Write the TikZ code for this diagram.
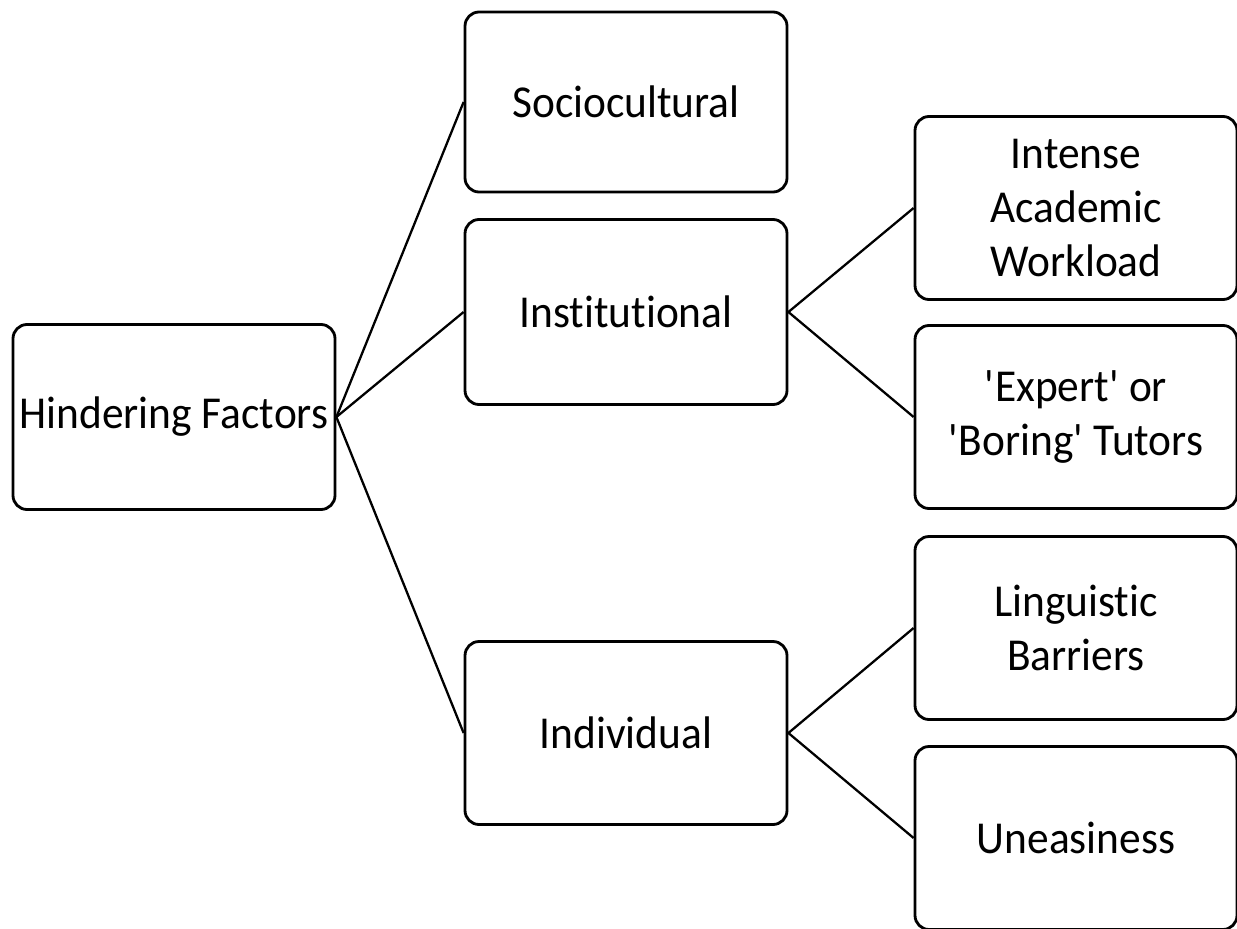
\documentclass[tikz,border=0pt]{standalone}
\usepackage{fontspec}
\setmainfont{Carlito}[FakeStretch=0.95, Ligatures=NoCommon]
\usetikzlibrary{positioning}

\begin{document}
\begin{tikzpicture}[
  factor/.style={rectangle, rounded corners=8pt, draw=black, line width=1.6pt, fill=white,
    minimum width=6.44cm, minimum height=3.66cm, align=center, inner sep=1pt,
    font=\fontsize{26}{30.7}\selectfont},
  link/.style={line width=1.3pt}
]
\useasboundingbox (0,0) rectangle (24.74,-18.56);

% Root
\node[factor, minimum height=3.7cm] (hf) at (3.48,-8.34) {Hindering Factors};

% First level
\node[factor, minimum height=3.6cm] (soc) at (12.52,-2.04) {Sociocultural};
\node[factor, minimum height=3.7cm] (inst) at (12.52,-6.24) {Institutional};
\node[factor] (indiv) at (12.52,-14.66) {Individual};

% Second level
\node[factor] (work) at (21.52,-4.16) {Intense\\Academic\\Workload};
\node[factor] (tut) at (21.52,-8.34) {\textquotesingle Expert\textquotesingle{} or\\\textquotesingle Boring\textquotesingle{} Tutors};
\node[factor] (ling) at (21.52,-12.56) {Linguistic\\Barriers};
\node[factor] (une) at (21.52,-16.76) {Uneasiness};

% Connectors
\draw[link] (hf.east) -- (soc.west);
\draw[link] (hf.east) -- (inst.west);
\draw[link] (hf.east) -- (indiv.west);

\draw[link] (inst.east) -- (work.west);
\draw[link] (inst.east) -- (tut.west);

\draw[link] (indiv.east) -- (ling.west);
\draw[link] (indiv.east) -- (une.west);

\end{tikzpicture}
\end{document}
